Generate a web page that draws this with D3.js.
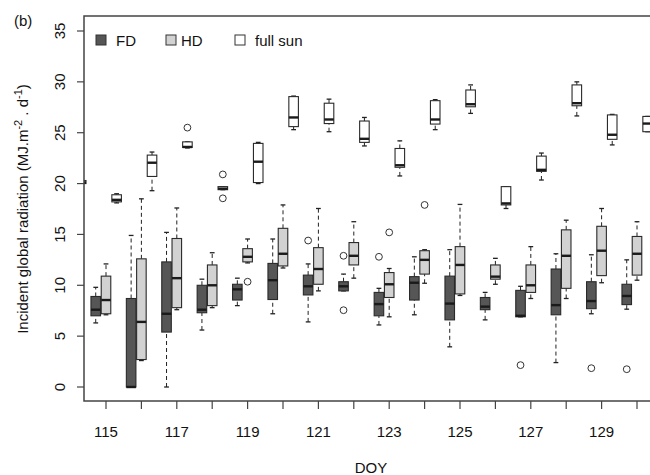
<!DOCTYPE html>
<html>
<head>
<meta charset="utf-8">
<script src="https://cdn.jsdelivr.net/npm/d3@7"></script>
<style>
  body { margin: 0; background: #fff; }
  text { font-family: "Liberation Sans", Arial, sans-serif; fill: #111; }
</style>
</head>
<body>
<div id="container"></div>
<script>
/**
 * CONSTANTS AND GLOBALS
 * */
const width = 650,
  height = 475;

// day of year
const days = [114, 115, 116, 117, 118, 119, 120, 121, 122, 123, 124, 125, 126, 127, 128, 129, 130];
const xTickLabels = [115, 117, 119, 121, 123, 125, 127, 129];
const yTicks = [0, 5, 10, 15, 20, 25, 30, 35];

// [low whisker, q1, median, q3, high whisker] per day, null = no box
const fdStats = [
  null,
  [6.3, 7.0, 7.6, 8.9, 9.8],
  [0, 0, 0, 8.7, 14.9],
  [0, 5.4, 7.2, 12.3, 15.2],
  [5.6, 7.3, 7.6, 10.0, 10.6],
  [8.0, 8.55, 9.6, 10.1, 10.7],
  [7.2, 8.6, 10.5, 12.15, 14.55],
  [6.4, 9.05, 9.9, 11.0, 12.1],
  [9.45, 9.45, 9.9, 10.35, 11.1],
  [6.1, 7.0, 8.15, 9.3, 9.7],
  [7.1, 8.55, 10.25, 10.85, 12.8],
  [3.95, 6.6, 8.2, 10.9, 13.5],
  [6.6, 7.6, 7.9, 8.8, 9.3],
  [6.9, 6.9, 7.0, 9.5, 9.9],
  [2.4, 7.1, 8.05, 11.6, 13.1],
  [7.2, 7.7, 8.45, 10.35, 13.0],
  [7.65, 8.1, 8.95, 10.1, 12.5]
];
const hdStats = [
  null,
  [7.1, 7.2, 8.55, 10.9, 12.1],
  [2.6, 2.7, 6.4, 12.6, 18.5],
  [7.6, 7.8, 10.7, 14.6, 17.6],
  [7.8, 8.0, 10.0, 12.0, 13.2],
  [12.2, 12.3, 12.8, 13.6, 14.55],
  [11.7, 11.9, 13.1, 15.6, 17.9],
  [9.45, 10.1, 11.6, 13.7, 17.55],
  [10.7, 12.0, 12.9, 14.2, 16.25],
  [6.9, 8.8, 10.1, 11.25, 11.65],
  [10.2, 11.1, 12.5, 13.4, 13.5],
  [9.0, 9.15, 12.0, 13.8, 17.95],
  [10.1, 10.6, 10.85, 12.0, 12.65],
  [8.7, 9.3, 10.0, 12.0, 13.8],
  [8.7, 9.7, 12.9, 15.45, 16.4],
  [10.25, 10.95, 13.4, 15.8, 17.55],
  [10.5, 11.0, 13.1, 14.8, 16.25]
];
const sunStats = [
  [19.9, 20.0, 20.1, 20.3, 20.4],
  [18.1, 18.2, 18.4, 18.9, 19.0],
  [19.3, 20.7, 22.05, 22.8, 23.1],
  [23.5, 23.55, 23.6, 24.1, 24.1],
  [19.4, 19.4, 19.5, 19.7, 19.7],
  [20.0, 20.1, 22.15, 23.95, 24.05],
  [25.3, 25.6, 26.5, 28.55, 28.6],
  [25.1, 25.9, 26.3, 27.9, 28.3],
  [23.7, 24.05, 24.4, 26.15, 26.5],
  [20.75, 21.6, 21.8, 23.45, 24.2],
  [25.3, 25.85, 26.3, 28.15, 28.25],
  [26.9, 27.55, 27.8, 29.2, 29.7],
  [17.55, 17.9, 18.05, 19.7, 19.7],
  [20.35, 21.2, 21.35, 22.7, 23.0],
  [26.65, 27.65, 27.9, 29.7, 30.0],
  [23.8, 24.35, 24.8, 26.75, 26.8],
  [25.1, 25.1, 25.9, 26.6, 26.6]
];

// outliers: [day, value]
const fdOutliers = [[121, 14.4], [122, 12.9], [122, 7.55], [123, 12.8], [127, 2.15], [129, 1.85], [130, 1.75]];
const hdOutliers = [[119, 10.35], [123, 15.2], [124, 17.9]];
const sunOutliers = [[117, 25.5], [118, 20.9], [118, 18.55]];

const seriesNames = ["FD", "HD", "full sun"];

let svg;

/**
 * INITIALIZING FUNCTION
 * */
function init() {
  const plot = { left: 84, right: 660, top: 16, bottom: 401 };

  const x = d3.scaleLinear().domain([115, 130]).range([106, 637]);
  const y = d3.scaleLinear().domain([0, 35]).range([387, 31]);
  const dayW = x(116) - x(115);

  const series = [
    { name: "FD", stats: fdStats, out: fdOutliers, offset: -0.29, fill: "#565656" },
    { name: "HD", stats: hdStats, out: hdOutliers, offset: 0, fill: "#d2d2d2" },
    { name: "full sun", stats: sunStats, out: sunOutliers, offset: 0.3, fill: "#ffffff" }
  ];
  const boxW = 0.27 * dayW;

  svg = d3.select("#container")
    .append("svg")
    .attr("width", width)
    .attr("height", height);

  svg.append("defs").append("clipPath").attr("id", "clip")
    .append("rect")
    .attr("x", plot.left).attr("y", plot.top)
    .attr("width", plot.right - plot.left).attr("height", plot.bottom - plot.top);

  const g = svg.append("g").attr("clip-path", "url(#clip)");

  series.forEach(s => {
    const rows = days.map((d, i) => ({ day: d, st: s.stats[i] })).filter(r => r.st);
    const grp = g.append("g").attr("class", "series");
    const cx = r => x(r.day + s.offset);

    // whiskers (dashed)
    grp.selectAll("line.wlo").data(rows).join("line")
      .attr("x1", cx).attr("x2", cx)
      .attr("y1", r => y(r.st[0])).attr("y2", r => y(r.st[1]))
      .attr("stroke", "#222").attr("stroke-dasharray", "4,3");
    grp.selectAll("line.whi").data(rows).join("line")
      .attr("x1", cx).attr("x2", cx)
      .attr("y1", r => y(r.st[3])).attr("y2", r => y(r.st[4]))
      .attr("stroke", "#222").attr("stroke-dasharray", "4,3");

    // staples
    [0, 4].forEach(k => {
      grp.selectAll("line.cap" + k).data(rows).join("line")
        .attr("x1", r => cx(r) - boxW / 4).attr("x2", r => cx(r) + boxW / 4)
        .attr("y1", r => y(r.st[k])).attr("y2", r => y(r.st[k]))
        .attr("stroke", "#222").attr("stroke-width", 1.3);
    });

    // boxes
    grp.selectAll("rect").data(rows).join("rect")
      .attr("x", r => cx(r) - boxW / 2)
      .attr("y", r => y(r.st[3]))
      .attr("width", boxW)
      .attr("height", r => Math.max(0.5, y(r.st[1]) - y(r.st[3])))
      .attr("fill", s.fill)
      .attr("stroke", "#2a2a2a").attr("stroke-width", 1.1);

    // medians
    grp.selectAll("line.med").data(rows).join("line")
      .attr("x1", r => cx(r) - boxW / 2).attr("x2", r => cx(r) + boxW / 2)
      .attr("y1", r => y(r.st[2])).attr("y2", r => y(r.st[2]))
      .attr("stroke", "#1a1a1a").attr("stroke-width", 2.4);

    // outliers
    grp.selectAll("circle").data(s.out).join("circle")
      .attr("cx", d => x(d[0] + s.offset))
      .attr("cy", d => y(d[1]))
      .attr("r", 3.4)
      .attr("fill", "none").attr("stroke", "#333").attr("stroke-width", 1);
  });

  // frame (left, top, bottom; right side runs off the picture)
  svg.append("path")
    .attr("d", `M${plot.right},${plot.top}H${plot.left}V${plot.bottom}H${plot.right}`)
    .attr("fill", "none").attr("stroke", "#444").attr("stroke-width", 1.5);

  // y axis ticks and labels
  svg.selectAll("line.ytick").data(yTicks).join("line")
    .attr("x1", plot.left - 7).attr("x2", plot.left)
    .attr("y1", d => y(d)).attr("y2", d => y(d))
    .attr("stroke", "#444").attr("stroke-width", 1.2);
  svg.selectAll("text.ylab").data(yTicks).join("text")
    .attr("transform", d => `translate(65,${y(d)}) rotate(-90)`)
    .attr("text-anchor", "middle")
    .attr("font-size", 15)
    .text(d => d);

  // x axis ticks and labels
  const xTicks = d3.range(115, 131);
  svg.selectAll("line.xtick").data(xTicks).join("line")
    .attr("x1", d => x(d)).attr("x2", d => x(d))
    .attr("y1", plot.bottom).attr("y2", plot.bottom + 8)
    .attr("stroke", "#444").attr("stroke-width", 1.2);
  svg.selectAll("text.xlab").data(xTickLabels).join("text")
    .attr("x", d => x(d)).attr("y", 437)
    .attr("text-anchor", "middle")
    .attr("font-size", 15)
    .text(d => d);

  // axis titles
  svg.append("text")
    .attr("x", 371).attr("y", 473)
    .attr("text-anchor", "middle").attr("font-size", 15)
    .text("DOY");

  const yt = svg.append("text")
    .attr("transform", `translate(28,${209}) rotate(-90)`)
    .attr("text-anchor", "middle").attr("font-size", 15);
  yt.append("tspan").text("Incident global radiation (MJ.m");
  yt.append("tspan").attr("baseline-shift", "super").attr("font-size", 11).text("-2");
  yt.append("tspan").text(" . d");
  yt.append("tspan").attr("baseline-shift", "super").attr("font-size", 11).text("-1");
  yt.append("tspan").text(")");

  svg.append("text")
    .attr("x", 14).attr("y", 26).attr("font-size", 15)
    .text("(b)");

  // legend
  const legX = [96, 166, 235];
  const leg = svg.selectAll("g.leg").data(series).join("g")
    .attr("transform", (d, i) => `translate(${legX[i]},35)`);
  leg.append("rect")
    .attr("width", 10).attr("height", 10)
    .attr("fill", d => d.fill).attr("stroke", "#333");
  leg.append("text")
    .attr("x", (d, i) => i === 0 ? 20 : i === 1 ? 15 : 20)
    .attr("y", 11).attr("font-size", 15)
    .text((d, i) => seriesNames[i]);
}

init();
</script>
</body>
</html>
